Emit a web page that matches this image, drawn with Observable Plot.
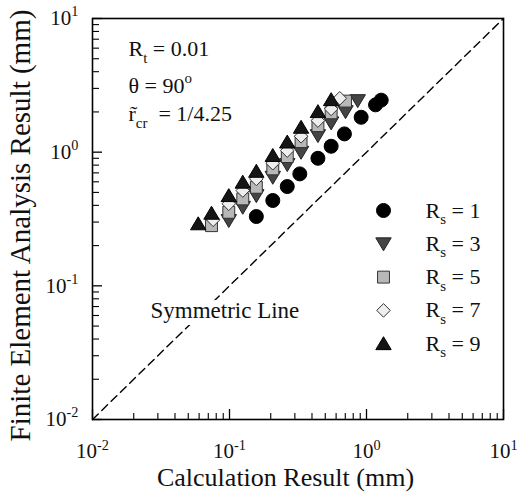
<!DOCTYPE html>
<html><head><meta charset="utf-8">
<script src="https://cdn.jsdelivr.net/npm/d3@7"></script>
<script src="https://cdn.jsdelivr.net/npm/@observablehq/plot@0.6"></script>
<style>body{margin:0;background:#fff} svg text, svg tspan{font-family:"Liberation Serif","Times New Roman",serif !important;}</style>
</head><body><div id="chart"></div>
<script>
// ---- data ----
const seriesLabels = ["R_{s} = 1", "R_{s} = 3", "R_{s} = 5", "R_{s} = 7", "R_{s} = 9"];
const calc_rs1 = [0.157, 0.207, 0.264, 0.326, 0.442, 0.552, 0.69, 0.914, 1.164, 1.28];
const fea_rs1  = [0.33, 0.435, 0.553, 0.688, 0.9, 1.107, 1.37, 1.824, 2.26, 2.45];
const calc_rs3 = [0.0988, 0.125, 0.157, 0.207, 0.264, 0.333, 0.442, 0.552, 0.703, 0.863];
const fea_rs3  = [0.308, 0.387, 0.473, 0.649, 0.808, 0.998, 1.33, 1.656, 2.01, 2.43];
const calc_rs5 = [0.0739, 0.0988, 0.125, 0.157, 0.207, 0.264, 0.333, 0.442, 0.552, 0.703];
const fea_rs5  = [0.282, 0.355, 0.447, 0.546, 0.75, 0.927, 1.2, 1.58, 1.97, 2.41];
const calc_rs7 = [0.076, 0.0988, 0.125, 0.157, 0.207, 0.264, 0.333, 0.442, 0.552, 0.638];
const fea_rs7  = [0.312, 0.411, 0.516, 0.631, 0.826, 1.028, 1.315, 1.723, 2.108, 2.53];
const calc_rs9 = [0.0591, 0.0739, 0.0988, 0.125, 0.157, 0.207, 0.264, 0.333, 0.442, 0.552];
const fea_rs9  = [0.291, 0.349, 0.473, 0.596, 0.719, 0.944, 1.19, 1.535, 2.01, 2.47];
const symLine = [0.01, 10];
const majorTicks = [0.01, 0.1, 1, 10];
const majorTickLabels = ["10^{-2}", "10^{-1}", "10^{0}", "10^{1}"];
const annotations = ["R_{t} = 0.01", "θ = 90^{o}", "r\u0303_{cr}  = 1/4.25"];
const lineLabel = "Symmetric Line";
const xTitle = "Calculation Result (mm)";
const yTitle = "Finite Element Analysis Result (mm)";

// ---- build ----
const calcs = [calc_rs1, calc_rs3, calc_rs5, calc_rs7, calc_rs9];
const feas = [fea_rs1, fea_rs3, fea_rs5, fea_rs7, fea_rs9];
const table = seriesLabels.map((s, i) => calcs[i].map((c, j) => ({series: s, calc: c, fea: feas[i][j]})));
const minorTicks = [];
for (const d of majorTicks.slice(0, -1)) for (let k = 2; k <= 9; k++) minorTicks.push(d * k);
const tickLabel = new Map(majorTicks.map((t, i) => [t, majorTickLabels[i]]));

const FONT = "Liberation Serif, Times New Roman, serif";
const rad = s => Math.sqrt(s / Math.PI);
const symUp = {draw(c, s) { const r = rad(s); c.moveTo(0, -1.0 * r); c.lineTo(1.1 * r, 0.85 * r); c.lineTo(-1.1 * r, 0.85 * r); c.closePath(); }};
const symDown = {draw(c, s) { const r = rad(s); c.moveTo(0, 1.0 * r); c.lineTo(1.1 * r, -0.85 * r); c.lineTo(-1.1 * r, -0.85 * r); c.closePath(); }};
const symSquare = {draw(c, s) { const r = rad(s) * 0.85; c.rect(-r, -r, 2 * r, 2 * r); }};
const symDiamond = {draw(c, s) { const r = rad(s) * 0.97; c.moveTo(0, -r); c.lineTo(r, 0); c.lineTo(0, r); c.lineTo(-r, 0); c.closePath(); }};
const styles = [
  {symbol: "circle", fill: "#000", stroke: "#000", r: 7},
  {symbol: symDown, fill: "#444", stroke: "#222", r: 7},
  {symbol: symSquare, fill: "#b8b8b8", stroke: "#333", r: 7},
  {symbol: symDiamond, fill: "#eeeeee", stroke: "#333", r: 7},
  {symbol: symUp, fill: "#151515", stroke: "#000", r: 7}
];

const W = 517, H = 493, mL = 92, mR = 14, mT = 18, mB = 74;
const fw = W - mL - mR, fh = H - mT - mB;

const marks = [];
marks.push(Plot.line(symLine, {x: d => d, y: d => d, stroke: "#000", strokeWidth: 1.4, strokeDasharray: "8,5"}));
marks.push(Plot.text([lineLabel], {x: null, y: null, frameAnchor: "top-left", dx: 58, dy: 292, textAnchor: "start", lineAnchor: "middle", fontSize: 23, fontFamily: FONT, fill: "#111", stroke: "white", strokeWidth: 14}));
// ticks inward
marks.push(Plot.tickX(majorTicks, {x: d => d, insetTop: fh - 10, stroke: "#000", strokeWidth: 1.3}));
marks.push(Plot.tickX(minorTicks, {x: d => d, insetTop: fh - 6, stroke: "#000", strokeWidth: 1.1}));
marks.push(Plot.tickY(majorTicks, {y: d => d, insetRight: fw - 10, stroke: "#000", strokeWidth: 1.3}));
marks.push(Plot.tickY(minorTicks, {y: d => d, insetRight: fw - 7, stroke: "#000", strokeWidth: 1.1}));
marks.push(Plot.axisX({ticks: majorTicks, tickSize: 0, tickPadding: 24, tickFormat: d => tickLabel.get(d), label: null, fontSize: 21, fontFamily: FONT}));
marks.push(Plot.axisY({ticks: majorTicks, tickSize: 0, tickPadding: 14, tickFormat: d => tickLabel.get(d), label: null, fontSize: 21, fontFamily: FONT}));
// series
table.forEach((rows, i) => {
  marks.push(Plot.dot(rows, {x: "calc", y: "fea", ...styles[i], strokeWidth: 1}));
});
// legend
seriesLabels.forEach((s, i) => {
  marks.push(Plot.dot([s], {x: null, y: null, frameAnchor: "top-left", dx: 291, dy: 192 + 33.3 * i, ...styles[i], strokeWidth: 1}));
  marks.push(Plot.text([s], {x: null, y: null, text: d => d, frameAnchor: "top-left", dx: 333, dy: 192 + 33.3 * i, textAnchor: "start", lineAnchor: "middle", fontSize: 22, fontFamily: FONT, fill: "#111"}));
});
// annotations
const annDy = [30.5, 67, 95.5];
annotations.forEach((a, i) => {
  marks.push(Plot.text([a], {x: null, y: null, text: d => d, frameAnchor: "top-left", dx: 36, dy: annDy[i], textAnchor: "start", lineAnchor: "middle", fontSize: 22, fontFamily: FONT, fill: "#111"}));
});
// titles
marks.push(Plot.text([xTitle], {x: null, y: null, text: d => d, frameAnchor: "bottom", dx: -12.5, dy: 58.5, textAnchor: "middle", lineAnchor: "middle", fontSize: 26, fontFamily: FONT, fill: "#111"}));
marks.push(Plot.text([yTitle], {x: null, y: null, text: d => d, frameAnchor: "left", dx: -72, dy: 6.5, rotate: -90, textAnchor: "middle", lineAnchor: "middle", fontSize: 29, fontFamily: FONT, fill: "#111"}));
marks.push(Plot.frame({stroke: "#000", strokeWidth: 1.6}));

const svg = Plot.plot({
  width: W, height: H,
  marginLeft: mL, marginRight: mR, marginTop: mT, marginBottom: mB,
  x: {type: "log", domain: [0.01, 10]},
  y: {type: "log", domain: [0.01, 10]},
  style: {fontFamily: FONT, fontSize: "21px", color: "#111", background: "white"},
  marks
});
document.getElementById("chart").appendChild(svg);

// rich text: ^{..} superscript, _{..} subscript
const NS = "http://www.w3.org/2000/svg";
svg.querySelectorAll("text").forEach(t => {
  const targets = t.querySelector("tspan") ? [...t.querySelectorAll("tspan")] : [t];
  for (const el of targets) {
    const s = el.textContent;
    if (!/[\^_]\{/.test(s)) continue;
    const fs = parseFloat(getComputedStyle(el).fontSize) || 21;
    el.textContent = "";
    const re = /([\^_])\{([^}]*)\}/g;
    let last = 0, m, off = 0;
    const add = (txt, shift, small) => {
      const ts = document.createElementNS(NS, "tspan");
      ts.textContent = txt;
      const dy = shift - off;
      if (dy) ts.setAttribute("dy", dy.toFixed(2));
      if (small) ts.setAttribute("font-size", (fs * 0.68).toFixed(2));
      off = shift;
      el.appendChild(ts);
    };
    while ((m = re.exec(s))) {
      if (m.index > last) add(s.slice(last, m.index), 0, false);
      add(m[2], m[1] === "^" ? -0.42 * fs : 0.3 * fs, true);
      last = re.lastIndex;
    }
    if (last < s.length) add(s.slice(last), 0, false);
  }
});
</script>
</body></html>
